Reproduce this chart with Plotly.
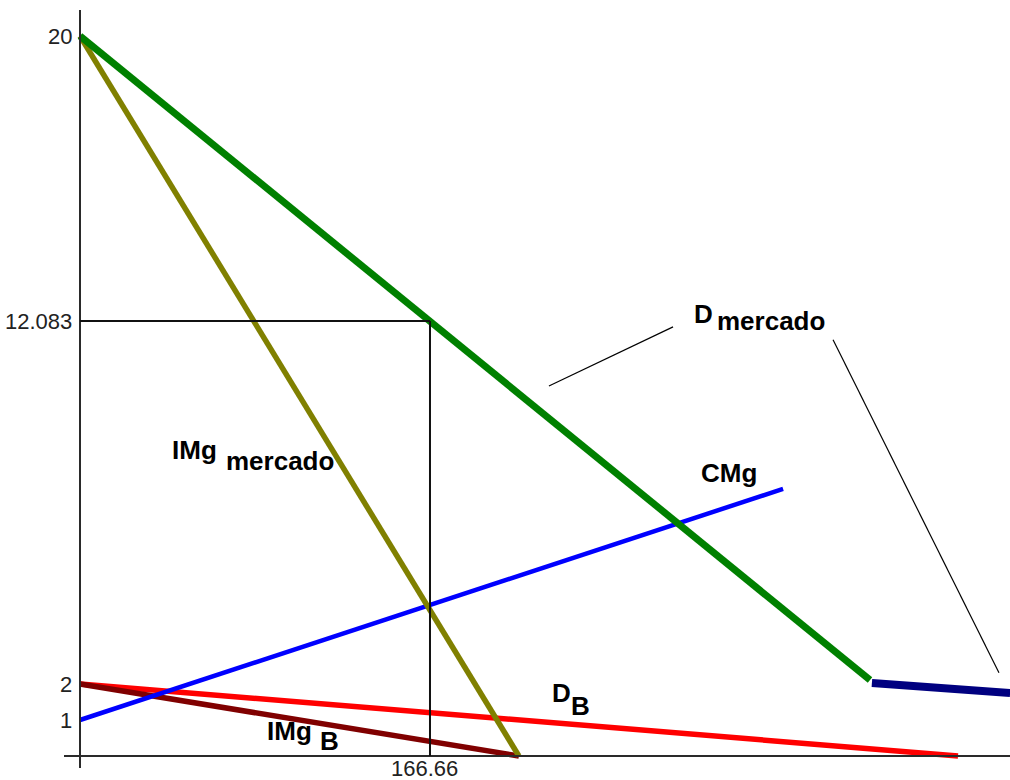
import plotly.graph_objects as go

# Curves (quantity, price)
d_mercado_q = [0, 166.66, 376.2]
d_mercado_p = [20, 12.083, 2.11]

d_mercado_tail_q = [377.1, 442.9]
d_mercado_tail_p = [2.03, 1.75]

img_mercado_q = [0, 209]
img_mercado_p = [20, 0]

cmg_q = [0, 334.8]
cmg_p = [1, 7.42]

d_b_q = [0, 418.1]
d_b_p = [2, 0]

img_b_q = [0, 209]
img_b_p = [2, 0]

# Optimum
q_opt = 166.66
p_opt = 12.083

# Axis tick labels
y_ticks = [20, 12.083, 2, 1]
y_tick_text = ["20", "12.083", "2", "1"]
x_ticks = [166.66]
x_tick_text = ["166.66"]

# Pointer lines from the "D mercado" label
pointer_1 = ([223.3, 282.4], [10.28, 11.92])
pointer_2 = ([358.6, 437.6], [11.56, 2.31])

W, H = 1010, 780
X0_PX, Y0_PX = 80, 756          # pixel position of the origin
PX_PER_Q, PX_PER_P = 2.1, 36.0  # pixels per unit

x_range = [-X0_PX / PX_PER_Q, (W - X0_PX) / PX_PER_Q]
y_range = [-(H - Y0_PX) / PX_PER_P, Y0_PX / PX_PER_P]

fig = go.Figure()

def add_line(q, p, color, width):
    fig.add_trace(go.Scatter(x=q, y=p, mode="lines",
                             line=dict(color=color, width=width),
                             hoverinfo="skip", showlegend=False))

add_line(d_b_q, d_b_p, "#FF0000", 5.5)
add_line(img_b_q, img_b_p, "#800000", 5.5)
add_line(cmg_q, cmg_p, "#0000FF", 4.5)
add_line(img_mercado_q, img_mercado_p, "#808000", 5.5)
add_line(d_mercado_q, d_mercado_p, "#008000", 7)
add_line(d_mercado_tail_q, d_mercado_tail_p, "#000080", 8)
add_line(*pointer_1, "#000000", 1.2)
add_line(*pointer_2, "#000000", 1.2)

axis_color = "#2a2a2a"
shapes = [
    # y axis and x axis
    dict(type="line", x0=0, x1=0, y0=(Y0_PX - 10) / PX_PER_P,
         y1=-(768 - Y0_PX) / PX_PER_P, line=dict(color=axis_color, width=2)),
    dict(type="line", x0=-(X0_PX - 64) / PX_PER_Q, x1=x_range[1], y0=0, y1=0,
         line=dict(color=axis_color, width=2)),
    # guide lines to the optimum
    dict(type="line", x0=0, x1=q_opt, y0=p_opt, y1=p_opt,
         line=dict(color="#111111", width=2)),
    dict(type="line", x0=q_opt, x1=q_opt, y0=p_opt, y1=0,
         line=dict(color="#111111", width=2)),
]

annotations = []
tick_font = dict(family="Liberation Sans, Arial, sans-serif", size=22, color="#222222")
for v, t in zip(y_ticks, y_tick_text):
    annotations.append(dict(x=0, y=v, text=t, showarrow=False, xanchor="right",
                            yanchor="middle", xshift=-6, font=tick_font))
for v, t in zip(x_ticks, x_tick_text):
    annotations.append(dict(x=v, y=0, text=t, showarrow=False, xanchor="center",
                            yanchor="top", xshift=-5, yshift=1, borderpad=0,
                            font=tick_font))

label_size = 26
label_font = dict(family="Liberation Sans, Arial, sans-serif", size=label_size,
                  color="#000000")

def label(text, left_px, baseline_px):
    x = (left_px - X0_PX) / PX_PER_Q
    y = (Y0_PX - baseline_px + 0.35 * label_size) / PX_PER_P
    annotations.append(dict(x=x, y=y, text="<b>%s</b>" % text, showarrow=False,
                            xanchor="left", yanchor="middle", borderpad=0,
                            font=label_font))

label("D", 693, 323)
label("mercado", 716, 330)
label("CMg", 700, 482)
label("IMg", 171, 459)
label("mercado", 225, 470)
label("D", 551, 702)
label("B", 570, 715)
label("IMg", 266, 740)
label("B", 319, 750)

fig.update_layout(
    width=W, height=H,
    margin=dict(l=0, r=0, t=0, b=0),
    paper_bgcolor="#FFFFFF", plot_bgcolor="#FFFFFF",
    xaxis=dict(range=x_range, visible=False, fixedrange=True),
    yaxis=dict(range=y_range, visible=False, fixedrange=True),
    shapes=shapes, annotations=annotations,
    showlegend=False,
)

fig.write_html("out.html")
